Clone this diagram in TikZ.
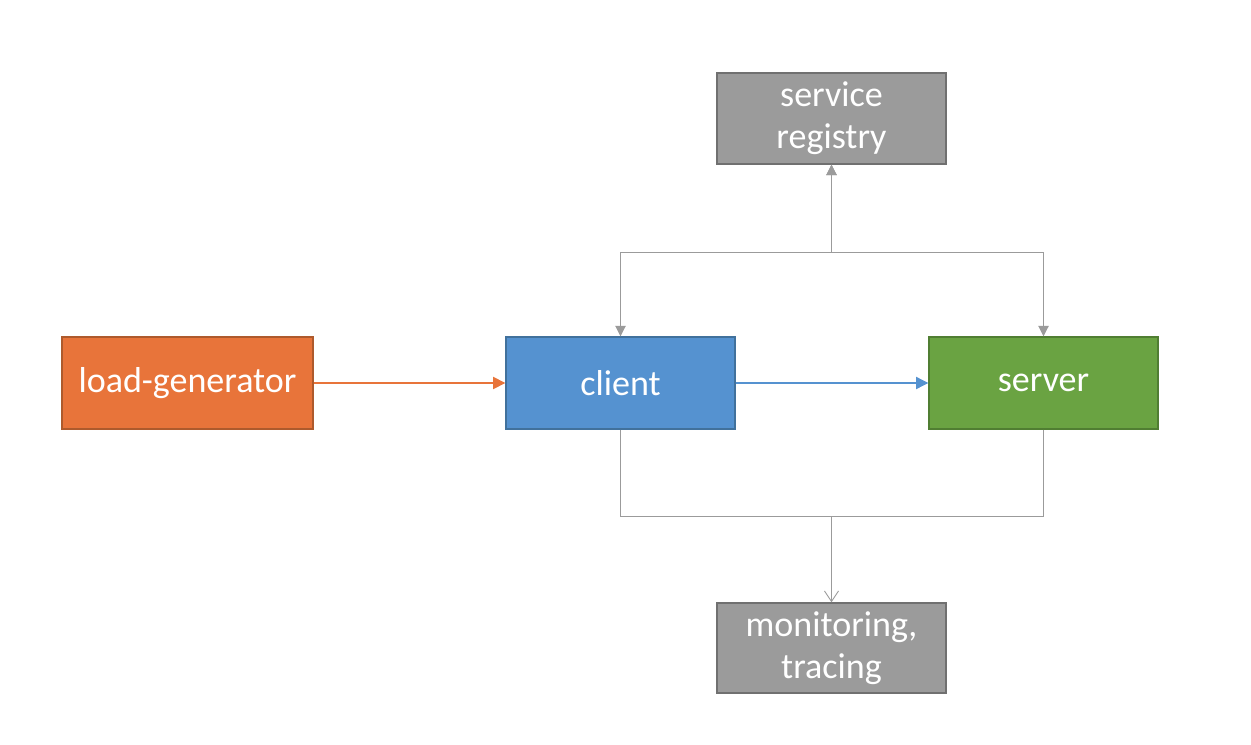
\documentclass[tikz,border=0pt]{standalone}
\usepackage{fontspec}
\setmainfont{Carlito}
\usetikzlibrary{arrows.meta}

\definecolor{loadfill}{HTML}{E8743A}
\definecolor{loaddraw}{HTML}{AE5A2C}
\definecolor{clientfill}{HTML}{5592D0}
\definecolor{clientdraw}{HTML}{41719C}
\definecolor{serverfill}{HTML}{6AA342}
\definecolor{serverdraw}{HTML}{507E32}
\definecolor{infrafill}{HTML}{9B9B9B}
\definecolor{infradraw}{HTML}{707070}
\definecolor{wire}{HTML}{9B9B9B}

\tikzset{
  svcbox/.style={rectangle, minimum width=4.58cm, minimum height=1.84cm,
    text=white, align=center, line width=0.8pt,
    font=\fontsize{20.5}{24}\selectfont},
  wirearrow/.style={draw=wire, line width=0.5pt},
}

\begin{document}
\begin{tikzpicture}

  % Frame of the picture (white margins as in the reference).
  \useasboundingbox (0,0) rectangle (25.02,14.88);

  % ---- Middle row: load generator, client, server ----
  \node[svcbox, fill=loadfill, draw=loaddraw, minimum width=5.02cm] (loadgen)
    at (3.75, 7.22) {load-generator};
  \node[svcbox, fill=clientfill, draw=clientdraw] (client)
    at (12.41, 7.22) {client};
  \node[svcbox, fill=serverfill, draw=serverdraw] (server)
    at (20.87, 7.22) {server};

  % ---- Top and bottom: infrastructure services ----
  \node[svcbox, fill=infrafill, draw=infradraw, minimum height=1.82cm] (registry)
    at (16.63, 12.51) {service\\registry};
  \node[svcbox, fill=infrafill, draw=infradraw, minimum height=1.80cm] (monitor)
    at (16.63, 1.92) {monitoring,\\tracing};

  % ---- Request path ----
  \draw[-{Triangle[length=7pt,width=7pt]}, draw=loadfill, line width=0.9pt]
    (loadgen) -- (client);
  \draw[-{Triangle[length=7pt,width=7pt]}, draw=clientfill, line width=0.6pt]
    (client) -- (server);

  % ---- Registry lookups (both ways) ----
  \coordinate (regjoin) at (16.63, 9.84);
  \draw[wirearrow, {Triangle[length=6pt,width=6pt]}-{Triangle[length=6pt,width=6pt]}]
    (client.north) |- (regjoin) -- (registry.south);
  \draw[wirearrow, {Triangle[length=6pt,width=6pt]}-{Triangle[length=6pt,width=6pt]}]
    (server.north) |- (regjoin) -- (registry.south);

  % ---- Telemetry to monitoring ----
  \coordinate (monjoin) at (16.63, 4.56);
  \draw[wirearrow] (client.south) |- (monjoin);
  \draw[wirearrow] (server.south) |- (monjoin);
  \draw[wirearrow, -{Straight Barb[length=6pt,width=8pt]}] (monjoin) -- (monitor.north);

\end{tikzpicture}
\end{document}
